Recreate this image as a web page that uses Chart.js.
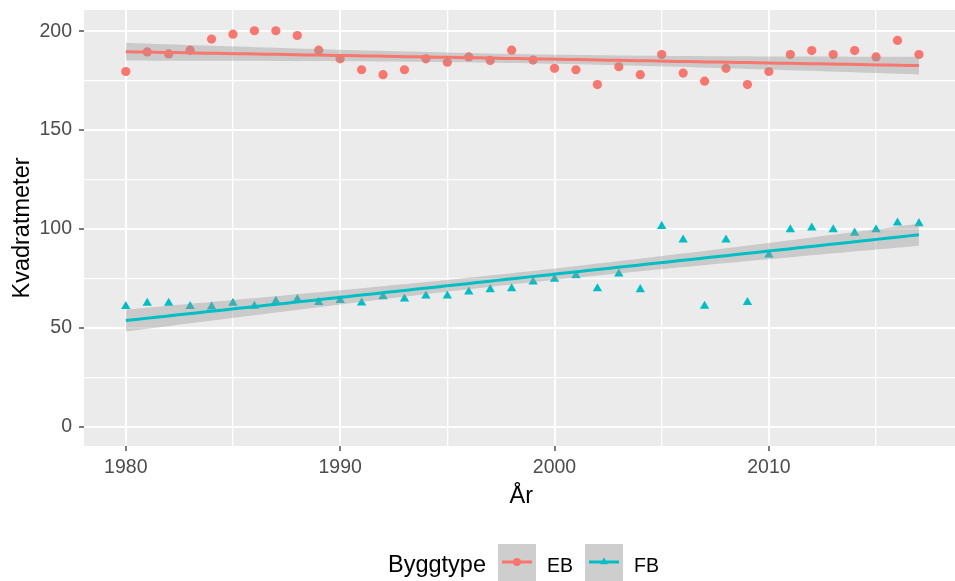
<!DOCTYPE html>
<html>
<head>
<meta charset="utf-8">
<script src="https://cdn.jsdelivr.net/npm/chart.js@4/dist/chart.umd.min.js"></script>
<style>
  html, body { margin: 0; padding: 0; background: #fff; overflow: hidden; }
  canvas { display: block; }
</style>
</head>
<body>
<canvas id="chart" width="964" height="581"></canvas>
<script>
// Boligareal per år, EB og FB, med lineær trend (lm) og 95 % konfidensbånd

var years = [1980, 1981, 1982, 1983, 1984, 1985, 1986, 1987, 1988, 1989,
             1990, 1991, 1992, 1993, 1994, 1995, 1996, 1997, 1998, 1999,
             2000, 2001, 2002, 2003, 2004, 2005, 2006, 2007, 2008, 2009,
             2010, 2011, 2012, 2013, 2014, 2015, 2016, 2017];

var ebValues = [179.6, 189.5, 188.5, 190.4, 196.0, 198.5, 200.2, 200.2, 197.8, 190.4,
                186.0, 180.5, 178.0, 180.5, 186.0, 184.3, 187.0, 185.2, 190.4, 185.4,
                181.2, 180.5, 173.0, 182.0, 178.0, 188.2, 178.8, 174.7, 181.2, 173.0,
                179.6, 188.2, 190.2, 188.2, 190.2, 187.0, 195.3, 188.2];

var fbValues = [60.9, 62.5, 62.5, 60.9, 60.7, 62.5, 61.0, 63.5, 64.4, 63.0,
                64.0, 62.7, 65.9, 64.7, 66.2, 66.2, 68.2, 69.4, 69.9, 73.3,
                74.7, 76.5, 69.9, 77.3, 69.4, 101.4, 94.5, 61.0, 94.5, 62.9,
                86.9, 99.7, 100.6, 99.7, 98.0, 99.7, 103.1, 102.8];

var seriesNames = ['EB', 'FB'];
var seriesColors = ['#F8766D', '#00BFC4'];
var legendTitle = 'Byggtype';
var xTitle = 'År';
var yTitle = 'Kvadratmeter';

var xMajorTicks = [1980, 1990, 2000, 2010];
var xMinorTicks = [1985, 1995, 2005, 2015];
var yMajorTicks = [0, 50, 100, 150, 200];
var yMinorTicks = [25, 75, 125, 175];

var BAND_FILL = 'rgba(153,153,153,0.4)';
var FONT = '"Liberation Sans", Arial, sans-serif';

// lineær regresjon som geom_smooth(method = "lm"), 80 punkter
function linearFit(xs, ys) {
    var n = xs.length, mx = 0, my = 0;
    for (var i = 0; i < n; i++) { mx += xs[i]; my += ys[i]; }
    mx /= n; my /= n;
    var sxx = 0, sxy = 0;
    for (i = 0; i < n; i++) {
        sxx += (xs[i] - mx) * (xs[i] - mx);
        sxy += (xs[i] - mx) * (ys[i] - my);
    }
    var b = sxy / sxx, a = my - b * mx;
    var sse = 0;
    for (i = 0; i < n; i++) {
        var r = ys[i] - (a + b * xs[i]);
        sse += r * r;
    }
    var s = Math.sqrt(sse / (n - 2));
    var t = 2.0281; // qt(0.975, df = 36)
    var fit = [], lower = [], upper = [];
    var x0 = Math.min.apply(null, xs), x1 = Math.max.apply(null, xs);
    for (var k = 0; k < 80; k++) {
        var x = x0 + (x1 - x0) * k / 79;
        var y = a + b * x;
        var se = s * Math.sqrt(1 / n + (x - mx) * (x - mx) / sxx);
        fit.push({ x: x, y: y });
        lower.push({ x: x, y: y - t * se });
        upper.push({ x: x, y: y + t * se });
    }
    return { fit: fit, lower: lower, upper: upper };
}

function toPoints(xs, ys) {
    return xs.map(function (x, i) { return { x: x, y: ys[i] }; });
}

var ebFit = linearFit(years, ebValues);
var fbFit = linearFit(years, fbValues);

function pointSet(label, values, color, style) {
    return {
        label: label,
        data: toPoints(years, values),
        showLine: false,
        pointStyle: style,
        pointRadius: style === 'triangle' ? 5.4 : 4.6,
        pointBackgroundColor: color,
        pointBorderColor: color,
        pointBorderWidth: 0,
        order: 5
    };
}

function bandSet(data, fillTarget) {
    return {
        data: data,
        borderWidth: 0,
        pointRadius: 0,
        backgroundColor: BAND_FILL,
        fill: fillTarget === null ? false : { target: fillTarget },
        order: 3
    };
}

function lineSet(data, color) {
    return {
        data: data,
        borderColor: color,
        borderWidth: 3,
        pointRadius: 0,
        fill: false,
        order: 1
    };
}

function setTicks(list) {
    return function (axis) {
        axis.ticks = list.slice().sort(function (a, b) { return a - b; })
            .map(function (v) { return { value: v }; });
    };
}

function isMajor(list) {
    return function (ctx) { return ctx.tick && list.indexOf(ctx.tick.value) >= 0; };
}

var xIsMajor = isMajor(xMajorTicks);
var yIsMajor = isMajor(yMajorTicks);

// grå panelbakgrunn (theme_gray)
var panelBackground = {
    id: 'panelBackground',
    beforeDraw: function (chart) {
        var a = chart.chartArea, ctx = chart.ctx;
        ctx.save();
        ctx.fillStyle = '#EBEBEB';
        ctx.fillRect(a.left, a.top, a.right - a.left, a.bottom - a.top);
        ctx.restore();
    }
};

// legende nederst, slik ggplot tegner den
var bottomLegend = {
    id: 'bottomLegend',
    afterDraw: function (chart) {
        var ctx = chart.ctx;
        ctx.save();
        ctx.fillStyle = '#000';
        ctx.textBaseline = 'alphabetic';
        ctx.textAlign = 'left';
        ctx.font = '23.5px ' + FONT;
        ctx.fillText(legendTitle, 388, 572);

        var keyLeft = [498, 585];
        var styles = ['circle', 'triangle'];
        for (var i = 0; i < seriesNames.length; i++) {
            var kx = keyLeft[i], ky = 544, kw = 38, kh = 38;
            ctx.fillStyle = '#F2F2F2';
            ctx.fillRect(kx, ky, kw, kh);
            ctx.fillStyle = BAND_FILL;
            ctx.fillRect(kx, ky, kw, kh);
            var cy = 562, cx = kx + kw / 2;
            ctx.strokeStyle = seriesColors[i];
            ctx.lineWidth = 3;
            ctx.beginPath();
            ctx.moveTo(kx + 4, cy);
            ctx.lineTo(kx + kw - 4, cy);
            ctx.stroke();
            ctx.fillStyle = seriesColors[i];
            ctx.beginPath();
            if (styles[i] === 'circle') {
                ctx.arc(cx, cy, 4, 0, Math.PI * 2);
            } else {
                ctx.moveTo(cx, cy - 4.5);
                ctx.lineTo(cx + 3.9, cy + 2.25);
                ctx.lineTo(cx - 3.9, cy + 2.25);
                ctx.closePath();
            }
            ctx.fill();
            ctx.fillStyle = '#000';
            ctx.font = '19.5px ' + FONT;
            ctx.fillText(seriesNames[i], kx + kw + 11, 572);
        }
        ctx.restore();
    }
};

Chart.defaults.font.family = FONT;

new Chart(document.getElementById('chart').getContext('2d'), {
    type: 'line',
    data: {
        datasets: [
            pointSet(seriesNames[0], ebValues, seriesColors[0], 'circle'),
            pointSet(seriesNames[1], fbValues, seriesColors[1], 'triangle'),
            bandSet(ebFit.upper, 3),
            bandSet(ebFit.lower, null),
            bandSet(fbFit.upper, 5),
            bandSet(fbFit.lower, null),
            lineSet(ebFit.fit, seriesColors[0]),
            lineSet(fbFit.fit, seriesColors[1])
        ]
    },
    options: {
        responsive: false,
        animation: false,
        events: [],
        layout: { padding: { top: 10, left: 0, right: 0, bottom: 0 } },
        elements: { line: { tension: 0 } },
        plugins: {
            legend: { display: false },
            tooltip: { enabled: false }
        },
        scales: {
            x: {
                type: 'linear',
                min: 1978.05,
                max: 2018.85,
                afterBuildTicks: setTicks(xMajorTicks.concat(xMinorTicks)),
                afterFit: function (scale) {
                    scale.height = 135;
                    scale.paddingLeft = 0;
                    scale.paddingRight = 0;
                },
                border: { display: false },
                grid: {
                    color: '#FFFFFF',
                    lineWidth: function (ctx) { return xIsMajor(ctx) ? 2 : 1.3; },
                    tickColor: function (ctx) { return xIsMajor(ctx) ? '#333333' : 'rgba(0,0,0,0)'; },
                    tickLength: 5,
                    tickWidth: 1.3
                },
                ticks: {
                    autoSkip: false,
                    maxRotation: 0,
                    padding: 5,
                    color: '#4D4D4D',
                    font: { size: 19.5 },
                    callback: function (v) { return xMajorTicks.indexOf(v) >= 0 ? String(v) : ''; }
                },
                title: {
                    display: true,
                    text: xTitle,
                    color: '#000',
                    font: { size: 23.5 },
                    padding: { top: 0, bottom: 70 }
                }
            },
            y: {
                type: 'linear',
                min: -9.7,
                max: 210.7,
                afterBuildTicks: setTicks(yMajorTicks.concat(yMinorTicks)),
                afterFit: function (scale) {
                    scale.width = 84;
                    scale.paddingTop = 0;
                    scale.paddingBottom = 0;
                },
                border: { display: false },
                grid: {
                    color: '#FFFFFF',
                    lineWidth: function (ctx) { return yIsMajor(ctx) ? 2 : 1.3; },
                    tickColor: function (ctx) { return yIsMajor(ctx) ? '#333333' : 'rgba(0,0,0,0)'; },
                    tickLength: 5,
                    tickWidth: 1.3
                },
                ticks: {
                    autoSkip: false,
                    padding: 7,
                    color: '#4D4D4D',
                    font: { size: 19.5 },
                    callback: function (v) { return yMajorTicks.indexOf(v) >= 0 ? String(v) : ''; }
                },
                title: {
                    display: true,
                    text: yTitle,
                    color: '#000',
                    font: { size: 23.5 },
                    padding: { top: 8, bottom: 0 }
                }
            }
        }
    },
    plugins: [panelBackground, bottomLegend]
});
</script>
</body>
</html>
